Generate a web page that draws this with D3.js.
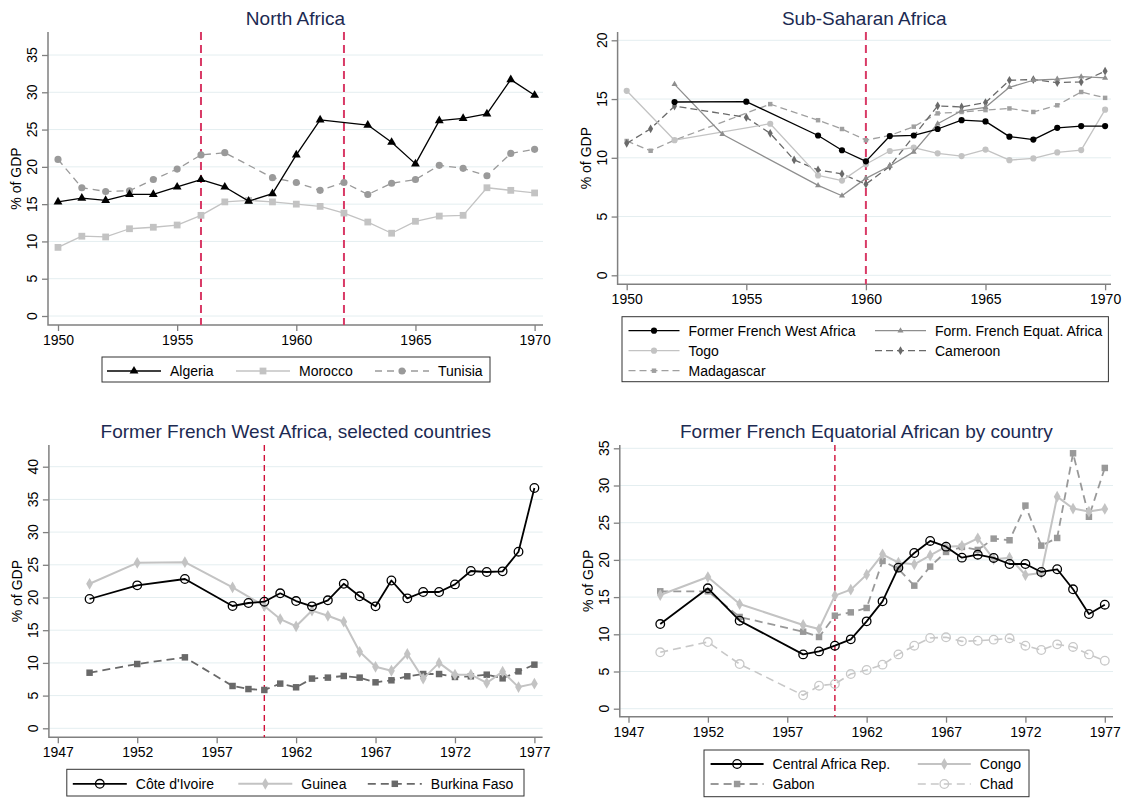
<!DOCTYPE html>
<html>
<head>
<meta charset="utf-8">
<script src="https://cdn.jsdelivr.net/npm/d3@7"></script>
<style>
  body { margin: 0; background: #fff; }
  svg { font-family: "Liberation Sans", Arial, Helvetica, sans-serif; }
</style>
</head>
<body>
<div id="chart"></div>
<script>
// ---- North Africa (1950-1970), null = no observation
var naYears = d3.range(1950, 1971);
var algeria = [15.3, 15.8, 15.5, 16.3, 16.3, 17.3, 18.3, 17.3, 15.4, 16.4, 21.6, 26.3, null, 25.6, 23.3, 20.4, 26.2, 26.5, 27.1, 31.7, 29.6];
var morocco = [9.2, 10.7, 10.6, 11.7, 11.9, 12.2, 13.5, 15.3, 15.5, 15.3, 15.0, 14.7, 13.8, 12.6, 11.1, 12.7, 13.4, 13.5, 17.2, 16.85, 16.5];
var tunisia = [21.0, 17.2, 16.7, 16.8, 18.3, 19.7, 21.6, 21.9, null, 18.55, 17.9, 16.85, 17.9, 16.3, 17.8, 18.3, 20.2, 19.8, 18.8, 21.8, 22.35];

// ---- Sub-Saharan Africa (1950-1970)
var ssYears = d3.range(1950, 1971);
var ffwa = [null, null, 14.75, null, null, 14.78, null, null, 11.9, 10.64, 9.7, 11.85, 11.9, 12.45, 13.2, 13.1, 11.8, 11.55, 12.55, 12.7, 12.7];
var ffea = [null, null, 16.25, null, 12.0, null, null, null, 7.65, 6.77, 8.25, 9.3, 10.5, 12.9, 14.0, 14.3, 16.0, 16.6, 16.7, 16.9, 16.8];
var togo = [15.7, null, 11.5, null, null, null, 12.9, null, 8.5, 8.06, 9.45, 10.58, 10.86, 10.38, 10.15, 10.7, 9.8, 9.95, 10.46, 10.66, 14.1];
var cameroon = [11.23, 12.47, 14.4, null, null, 13.44, 12.08, 9.82, 8.97, 8.63, 7.75, 9.28, null, 14.42, 14.33, 14.7, 16.6, 16.66, 16.4, 16.46, 17.37];
var madagascar = [11.43, 10.6, 11.5, null, null, null, 14.57, null, 13.2, 12.45, 11.5, 11.9, 12.65, 13.78, 13.9, 14.06, 14.2, 13.9, 14.47, 15.6, 15.1];

// ---- Former French West Africa, selected countries
var fwaYears = [1949, 1952, 1955].concat(d3.range(1958, 1978));
var civ = [19.77, 21.86, 22.83, 18.7, 19.16, 19.36, 20.64, 19.46, 18.65, 19.57, 22.1, 20.18, 18.65, 22.6, 19.87, 20.84, 20.84, 22.0, 24.05, 23.9, 24.0, 27.0, 36.74];
var guinea = [22.1, 25.3, 25.4, 21.55, null, 18.7, 16.7, 15.6, 18.0, 17.2, 16.3, 11.7, 9.4, 8.8, 11.36, 7.6, 10.0, 8.2, 8.2, 6.93, 8.66, 6.3, 6.83];
var burkina = [8.5, 9.83, 10.85, 6.47, 6.0, 5.86, 6.83, 6.27, 7.6, 7.75, 8.0, 7.75, 7.03, 7.34, 7.95, 8.3, 8.3, 7.85, 7.95, 8.2, 7.64, 8.7, 9.73];

// ---- Former French Equatorial Africa by country
var feaYears = [1949, 1952, 1954].concat(d3.range(1958, 1978));
var car = [11.38, 16.18, 11.83, 7.3, 7.7, 8.47, 9.32, 11.74, 14.43, 18.96, 20.93, 22.55, 21.78, 20.3, 20.7, 20.26, 19.45, 19.45, 18.38, 18.74, 16.05, 12.73, 13.98];
var congo = [15.28, 17.7, 14.07, 11.25, 10.71, 15.2, 16.0, 18.02, 20.75, 19.63, 19.4, 20.6, 21.78, 21.87, 22.9, 20.1, 20.3, 17.97, 18.24, 28.5, 26.9, 26.5, 26.85];
var gabon = [15.78, 15.78, 12.33, 10.35, 9.64, 12.5, 12.95, 13.54, 19.86, 18.78, 16.54, 19.1, 21.07, 21.74, 21.34, 22.86, 22.64, 27.3, 21.92, 22.95, 34.33, 25.8, 32.36];
var chad = [7.58, 8.96, 6.0, 1.8, 3.09, 3.32, 4.66, 5.2, 5.92, 7.3, 8.47, 9.5, 9.6, 9.05, 9.14, 9.28, 9.46, 8.47, 7.89, 8.65, 8.3, 7.3, 6.45];

var titleColor = "#1c2a52",
    axisColor = "#808080",
    gridColor = "#e4eef0";

var svg = d3.select("#chart").append("svg")
    .attr("width", 1125)
    .attr("height", 810);

function series(name, values, color, dash, symbol, size, width, hollow) {
  return {name: name, values: values, color: color, dash: dash, symbol: symbol,
          size: size, width: width, hollow: !!hollow};
}

var panels = [
  {
    title: "North Africa",
    left: 48, right: 543, top: 32, bottom: 325,
    xTicks: d3.range(1950, 1971, 5), xPix: [58, 534.6],
    yTicks: d3.range(0, 36, 5), yPix: [316, 55],
    vlines: [1956, 1962], vColor: "#d93a66", vWidth: 2, vDash: "8,5",
    years: naYears,
    series: [
      series("Algeria", algeria, "#000", null, d3.symbolTriangle, 34, 1.3),
      series("Morocco", morocco, "#c3c3c3", null, d3.symbolSquare, 46, 1.3),
      series("Tunisia", tunisia, "#9a9a9a", "7,5", d3.symbolCircle, 40, 1.3)
    ],
    legend: {x0: 102, x1: 490, y0: 357, y1: 382, cols: [5, 134, 273], rows: [14], sample: 54}
  },
  {
    title: "Sub-Saharan Africa",
    left: 617.6, right: 1111, top: 32, bottom: 284.3,
    xTicks: d3.range(1950, 1971, 5), xPix: [626.7, 1105.1],
    yTicks: d3.range(0, 21, 5), yPix: [275.3, 40.3],
    vlines: [1960], vColor: "#d93a66", vWidth: 2, vDash: "8,5",
    years: ssYears,
    series: [
      series("Former French West Africa", ffwa, "#000", null, d3.symbolCircle, 30, 1.3),
      series("Form. French Equat. Africa", ffea, "#8e8e8e", null, d3.symbolTriangle, 16, 1.3),
      series("Togo", togo, "#c3c3c3", null, d3.symbolCircle, 30, 1.3),
      series("Cameroon", cameroon, "#6a6a6a", "7,4", d3.symbolDiamond, 22, 1.3),
      series("Madagascar", madagascar, "#a0a0a0", "7,4", d3.symbolSquare, 20, 1.3)
    ],
    legend: {x0: 622, x1: 1108.4, y0: 316.7, y1: 381.7, cols: [6.5, 253], rows: [14, 34, 54], sample: 51}
  },
  {
    title: "Former French West Africa, selected countries",
    left: 48.9, right: 542.6, top: 445, bottom: 737.3,
    xTicks: d3.range(1947, 1978, 5), xPix: [57.8, 534.4],
    yTicks: d3.range(0, 41, 5), yPix: [728.3, 466.7],
    vlines: [1960], vColor: "#d0103a", vWidth: 1.4, vDash: "6,4",
    years: fwaYears,
    series: [
      series("Côte d'Ivoire", civ, "#000", null, null, 4.3, 1.8, true),
      series("Guinea", guinea, "#c3c3c3", null, d3.symbolDiamond, 40, 2),
      series("Burkina Faso", burkina, "#696969", "8,5", d3.symbolSquare, 42, 1.8)
    ],
    legend: {x0: 66.8, x1: 524, y0: 769.3, y1: 796, cols: [6, 171.5, 301], rows: [14.5], sample: 54}
  },
  {
    title: "Former French Equatorial African by country",
    left: 619.8, right: 1113, top: 445, bottom: 716.7,
    xTicks: d3.range(1947, 1978, 5), xPix: [628.5, 1104.8],
    yTicks: d3.range(0, 36, 5), yPix: [708.7, 448.3],
    vlines: [1960], vColor: "#d0103a", vWidth: 1.4, vDash: "6,4",
    years: feaYears,
    series: [
      series("Central Africa Rep.", car, "#000", null, null, 4.3, 1.8, true),
      series("Congo", congo, "#c3c3c3", null, d3.symbolDiamond, 40, 2),
      series("Gabon", gabon, "#999999", "8,5", d3.symbolSquare, 42, 1.8),
      series("Chad", chad, "#c8c8c8", "8,5", null, 4.3, 1.6, true)
    ],
    legend: {x0: 704, x1: 1029, y0: 750, y1: 796.7, cols: [6.6, 213.8], rows: [14, 34], sample: 53}
  }
];

panels.forEach(drawPanel);

function drawMarker(sel, s, cx, cy) {
  if (s.symbol) {
    sel.append("path")
        .attr("d", d3.symbol().type(s.symbol).size(s.size)())
        .attr("transform", "translate(" + cx + "," + cy + ")")
        .attr("fill", s.color);
  } else {
    sel.append("circle")
        .attr("cx", cx).attr("cy", cy)
        .attr("r", s.size)
        .attr("fill", "none")
        .attr("stroke", s.color)
        .attr("stroke-width", 1.3);
  }
}

function drawPanel(cfg) {
  var g = svg.append("g");

  var x = d3.scaleLinear()
      .domain([cfg.xTicks[0], cfg.xTicks[cfg.xTicks.length - 1]])
      .range(cfg.xPix);
  var y = d3.scaleLinear()
      .domain([cfg.yTicks[0], cfg.yTicks[cfg.yTicks.length - 1]])
      .range(cfg.yPix);

  // grid
  g.selectAll(".grid").data(cfg.yTicks).enter().append("line")
      .attr("x1", cfg.left).attr("x2", cfg.right)
      .attr("y1", function(d) { return y(d); })
      .attr("y2", function(d) { return y(d); })
      .attr("stroke", gridColor)
      .attr("stroke-width", 1);

  // y axis: ticks + rotated labels
  var yAxis = g.append("g")
      .attr("transform", "translate(" + cfg.left + ",0)")
      .call(d3.axisLeft(y).tickValues(cfg.yTicks).tickSize(6).tickSizeOuter(0).tickFormat(""));
  yAxis.select(".domain").remove();
  yAxis.selectAll(".tick line").attr("stroke", axisColor).attr("stroke-width", 1.3);

  g.selectAll(".ylab").data(cfg.yTicks).enter().append("text")
      .attr("transform", function(d) { return "translate(" + (cfg.left - 11) + "," + y(d) + ") rotate(-90)"; })
      .attr("text-anchor", "middle")
      .attr("font-size", 14)
      .attr("fill", "#000")
      .text(function(d) { return d; });

  // x axis
  var xAxis = g.append("g")
      .attr("transform", "translate(0," + cfg.bottom + ")")
      .call(d3.axisBottom(x).tickValues(cfg.xTicks).tickSize(6).tickSizeOuter(0).tickFormat(d3.format("d")));
  xAxis.select(".domain").remove();
  xAxis.selectAll(".tick line").attr("stroke", axisColor).attr("stroke-width", 1.3);
  xAxis.selectAll(".tick text")
      .attr("y", 10)
      .attr("dy", "0.71em")
      .attr("font-size", 14)
      .attr("font-family", "Liberation Sans, Arial, sans-serif")
      .attr("fill", "#000");

  // axis lines
  g.append("path")
      .attr("d", "M" + cfg.left + "," + cfg.top + "V" + cfg.bottom + "H" + cfg.right)
      .attr("fill", "none")
      .attr("stroke", axisColor)
      .attr("stroke-width", 1.5);

  // y title
  g.append("text")
      .attr("transform", "translate(" + (cfg.left - 27) + "," + ((cfg.top + cfg.bottom) / 2) + ") rotate(-90)")
      .attr("text-anchor", "middle")
      .attr("font-size", 14)
      .attr("fill", "#000")
      .text("% of GDP");

  // title
  g.append("text")
      .attr("x", (cfg.left + cfg.right) / 2)
      .attr("y", cfg.top - 7)
      .attr("text-anchor", "middle")
      .attr("font-size", 19)
      .attr("fill", titleColor)
      .text(cfg.title);

  // reference lines
  g.selectAll(".vline").data(cfg.vlines).enter().append("line")
      .attr("x1", function(d) { return x(d); })
      .attr("x2", function(d) { return x(d); })
      .attr("y1", cfg.top)
      .attr("y2", cfg.bottom)
      .attr("stroke", cfg.vColor)
      .attr("stroke-width", cfg.vWidth)
      .attr("stroke-dasharray", cfg.vDash);

  // series (drawn light to dark so the dark ones sit on top)
  var line = d3.line()
      .x(function(d) { return x(d.year); })
      .y(function(d) { return y(d.value); });

  cfg.series.slice().reverse().forEach(function(s) {
    var pts = cfg.years.map(function(yr, i) { return {year: yr, value: s.values[i]}; })
        .filter(function(d) { return d.value != null; });

    g.append("path")
        .datum(pts)
        .attr("d", line)
        .attr("fill", "none")
        .attr("stroke", s.color)
        .attr("stroke-width", s.width)
        .attr("stroke-dasharray", s.dash)
        .attr("stroke-linejoin", "round");

    var mk = g.append("g");
    pts.forEach(function(d) { drawMarker(mk, s, x(d.year), y(d.value)); });
  });

  // legend
  var L = cfg.legend;
  g.append("rect")
      .attr("x", L.x0).attr("y", L.y0)
      .attr("width", L.x1 - L.x0).attr("height", L.y1 - L.y0)
      .attr("fill", "#fff")
      .attr("stroke", "#333")
      .attr("stroke-width", 1);

  cfg.series.forEach(function(s, i) {
    var col = i % L.cols.length,
        row = Math.floor(i / L.cols.length);
    var lx = L.x0 + L.cols[col],
        ly = L.y0 + L.rows[row];
    var item = g.append("g");
    item.append("line")
        .attr("x1", lx).attr("x2", lx + L.sample)
        .attr("y1", ly).attr("y2", ly)
        .attr("stroke", s.color)
        .attr("stroke-width", s.width)
        .attr("stroke-dasharray", s.dash);
    drawMarker(item, s, lx + L.sample / 2, ly);
    item.append("text")
        .attr("x", lx + L.sample + 9)
        .attr("y", ly + 5)
        .attr("font-size", 14)
        .attr("fill", "#000")
        .text(s.name);
  });
}
</script>
</body>
</html>
